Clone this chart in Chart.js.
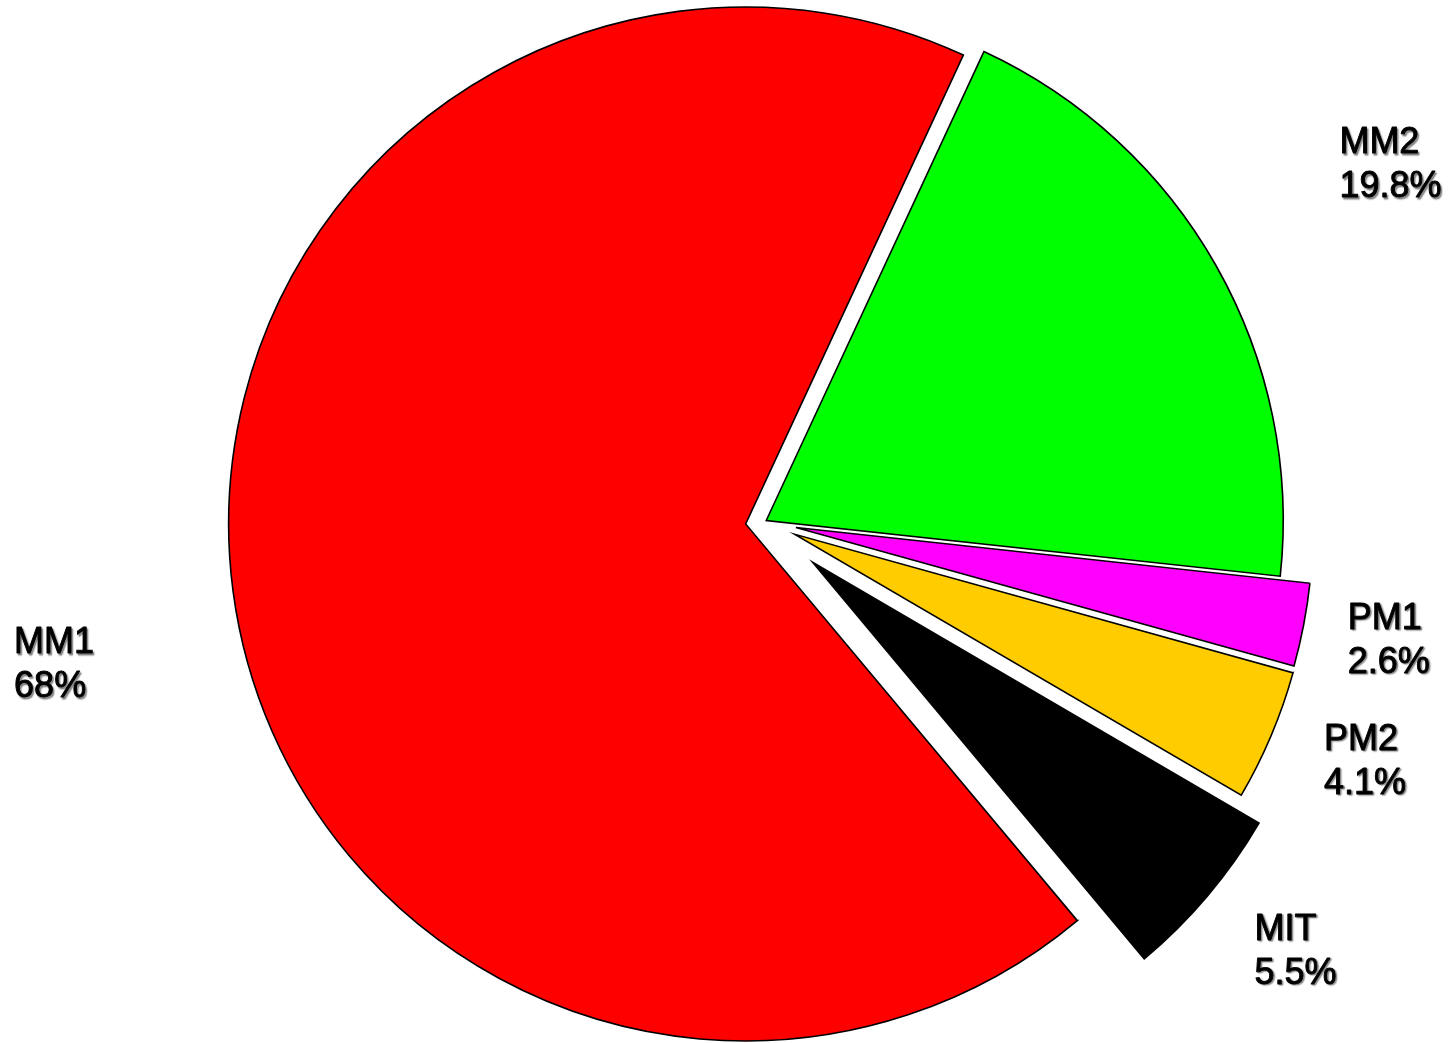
<!DOCTYPE html>
<html>
<head>
<meta charset="utf-8">
<title>MM1 / MM2 / PM1 / PM2 / MIT</title>
<script src="https://cdn.jsdelivr.net/npm/chart.js@4.4.1/dist/chart.umd.min.js"></script>
<style>
  html, body { margin: 0; padding: 0; background: #fff; }
  #wrap { width: 1454px; height: 1043px; position: relative; }
</style>
</head>
<body>
<div id="wrap"><canvas id="pie"></canvas></div>
<script>
const categories = ['MM1', 'MM2', 'PM1', 'PM2', 'MIT'];
const shares = [68, 19.8, 2.6, 4.1, 5.5];
const sliceColors = ['#ff0000', '#00ff00', '#ff00ff', '#ffcc00', '#000000'];

// distance each slice is pulled out of the pie, px
const explode = [19, 2, 32, 33, 63];
// where each label sits relative to the middle of its slice's rim
const labelNudge = [[-219, 52], [123, -123], [44, -6], [53, 4], [47, 34]];

// shift every arc along its own bisector (keeps the radius unchanged,
// unlike the built-in offset option)
const explodePlugin = {
  id: 'explode',
  afterDatasetUpdate(chart, args) {
    const meta = chart.getDatasetMeta(args.index);
    meta.data.forEach((arc, i) => {
      const mid = (arc.startAngle + arc.endAngle) / 2;
      arc.x += Math.cos(mid) * explode[i];
      arc.y += Math.sin(mid) * explode[i];
    });
  }
};

const labelPlugin = {
  id: 'sliceLabels',
  afterDatasetsDraw(chart) {
    const ctx = chart.ctx;
    const meta = chart.getDatasetMeta(0);
    ctx.save();
    ctx.font = '36px Arial, "Liberation Sans", sans-serif';
    ctx.textAlign = 'left';
    ctx.textBaseline = 'middle';
    ctx.fillStyle = '#000';
    ctx.strokeStyle = '#000';
    ctx.lineWidth = 0.9;
    ctx.lineJoin = 'round';
    ctx.shadowColor = 'rgba(0, 0, 0, 0.45)';
    ctx.shadowOffsetX = 1.5;
    ctx.shadowOffsetY = 1.5;
    ctx.shadowBlur = 1.5;
    meta.data.forEach((arc, i) => {
      const mid = (arc.startAngle + arc.endAngle) / 2;
      const x = arc.x + Math.cos(mid) * arc.outerRadius + labelNudge[i][0];
      const y = arc.y + Math.sin(mid) * arc.outerRadius + labelNudge[i][1];
      const lines = [categories[i], shares[i] + '%'];
      lines.forEach((t, k) => {
        ctx.fillText(t, x, y + k * 44);
        ctx.strokeText(t, x, y + k * 44);
      });
    });
    ctx.restore();
  }
};

const ctx = document.getElementById('pie').getContext('2d');
new Chart(ctx, {
  type: 'pie',
  data: {
    labels: categories,
    datasets: [{
      data: shares,
      backgroundColor: sliceColors,
      borderColor: '#000',
      borderWidth: 1.6,
      borderJoinStyle: 'miter'
    }]
  },
  options: {
    responsive: true,
    maintainAspectRatio: false,
    animation: false,
    rotation: 140.1,
    radius: 517,
    layout: { padding: { left: 75 } },
    plugins: {
      legend: { display: false },
      tooltip: { enabled: false }
    }
  },
  plugins: [explodePlugin, labelPlugin]
});
</script>
</body>
</html>
